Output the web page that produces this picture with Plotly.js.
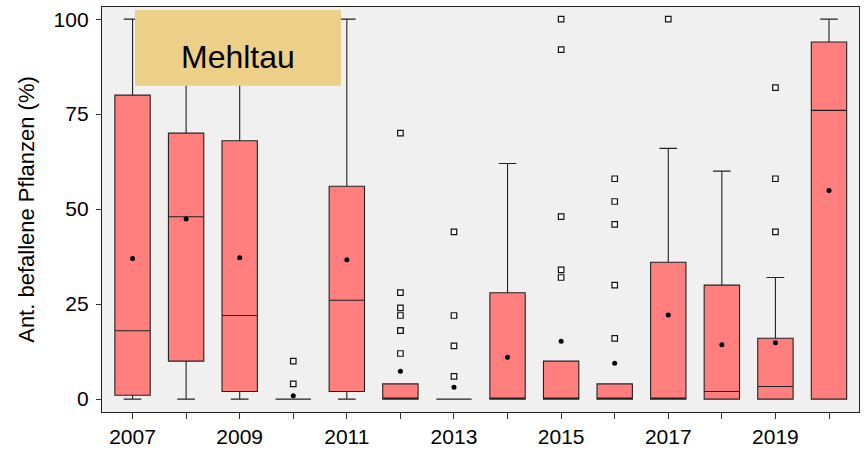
<!DOCTYPE html>
<html>
<head>
<meta charset="utf-8">
<script src="https://cdn.plot.ly/plotly-3.0.1.min.js"></script>
<style>html,body{margin:0;padding:0;background:#fff;}#chart{width:864px;height:449px;}</style>
</head>
<body>
<div id="chart"></div>
<script>
// Years (categories)
const years = [2007, 2008, 2009, 2010, 2011, 2012, 2013, 2014, 2015, 2016, 2017, 2018, 2019, 2020];
const tickLabels = ['2007', '', '2009', '', '2011', '', '2013', '', '2015', '', '2017', '', '2019', ''];
// Box statistics (% infested plants)
const lowerFence = [0, 0, 0, 0, 0, 0, 0, 0, 0, 0, 0, 0, 0, 0];
const q1Values = [1, 10, 2, 0, 2, 0, 0, 0, 0, 0, 0, 0, 0, 0];
const medianValues = [18, 48, 22, 0, 26, 0, 0, 0, 0, 0, 0, 2, 3.3, 76];
const q3Values = [80, 70, 68, 0, 56, 4, 0, 28, 10, 4, 36, 30, 16, 94];
const upperFence = [100, 100, 100, 0, 100, 4, 0, 62, 10, 4, 66, 60, 32, 100];
const meanValues = [37, 47.4, 37.2, 0.9, 36.7, 7.3, 3.1, 11, 15.2, 9.4, 22.1, 14.3, 14.8, 54.9];
// Outliers
const outlierYears = [2010, 2010,
  2012, 2012, 2012, 2012, 2012, 2012, 2012,
  2013, 2013, 2013, 2013,
  2015, 2015, 2015, 2015, 2015,
  2016, 2016, 2016, 2016, 2016,
  2017,
  2019, 2019, 2019];
const outlierValues = [10, 4,
  70, 28, 24, 22, 18, 18, 12,
  44, 22, 14, 6,
  100, 92, 48, 34, 32,
  58, 52, 46, 30, 16,
  100,
  82, 58, 44];
const labelText = 'Mehltau';
const yTitle = 'Ant. befallene Pflanzen (%)';

const FONT = 'Liberation Sans, Arial, sans-serif';

const traces = [
  {
    type: 'box',
    x: years,
    lowerfence: lowerFence,
    q1: q1Values,
    median: medianValues,
    q3: q3Values,
    upperfence: upperFence,
    width: 0.66,
    whiskerwidth: 0.5,
    fillcolor: '#FF7F7F',
    line: {color: '#222222', width: 1.1},
    boxpoints: false,
    showlegend: false,
    hoverinfo: 'skip'
  },
  {
    type: 'scatter',
    mode: 'markers',
    x: outlierYears,
    y: outlierValues,
    marker: {symbol: 'square', size: 5.5, color: '#ffffff', line: {color: '#111111', width: 1.2}},
    showlegend: false,
    hoverinfo: 'skip'
  },
  {
    type: 'scatter',
    mode: 'markers',
    x: years,
    y: meanValues,
    marker: {symbol: 'circle', size: 5, color: '#000000'},
    showlegend: false,
    hoverinfo: 'skip'
  }
];

const layout = {
  width: 864,
  height: 449,
  margin: {l: 102, r: 5, t: 7, b: 37},
  paper_bgcolor: '#ffffff',
  plot_bgcolor: '#f0f0f0',
  font: {family: FONT, size: 22, color: '#000000'},
  xaxis: {
    type: 'linear',
    range: [2006.43, 2020.56],
    tickmode: 'array',
    tickvals: years,
    ticktext: tickLabels,
    ticks: 'outside',
    ticklen: 6,
    tickcolor: '#333333',
    tickfont: {family: FONT, size: 21, color: '#000000'},
    showgrid: false,
    zeroline: false,
    showline: true,
    mirror: true,
    linecolor: '#222222',
    linewidth: 1.2
  },
  yaxis: {
    range: [-3.4, 103.2],
    tickmode: 'array',
    tickvals: [0, 25, 50, 75, 100],
    ticktext: ['0', '25', '50', '75', '100'],
    ticks: 'outside',
    ticklen: 5,
    tickcolor: '#333333',
    ticklabelstandoff: 3,
    tickfont: {family: FONT, size: 21, color: '#000000'},
    showgrid: false,
    zeroline: false,
    showline: true,
    mirror: true,
    linecolor: '#222222',
    linewidth: 1.2,
    title: {text: yTitle, font: {family: FONT, size: 22, color: '#000000'}, standoff: 12}
  },
  shapes: [{
    type: 'rect', xref: 'paper', yref: 'paper', layer: 'above',
    x0: 0.0436, x1: 0.3157, y0: 0.8057, y1: 0.9926,
    fillcolor: '#EDD088', line: {width: 0}
  }],
  annotations: [{
    xref: 'paper', yref: 'paper', x: 0.1797, y: 0.8773,
    xanchor: 'center', yanchor: 'middle', showarrow: false,
    text: labelText,
    font: {family: FONT, size: 32, color: '#000000'}
  }]
};

Plotly.newPlot('chart', traces, layout, {displayModeBar: false, staticPlot: true});
</script>
</body>
</html>
